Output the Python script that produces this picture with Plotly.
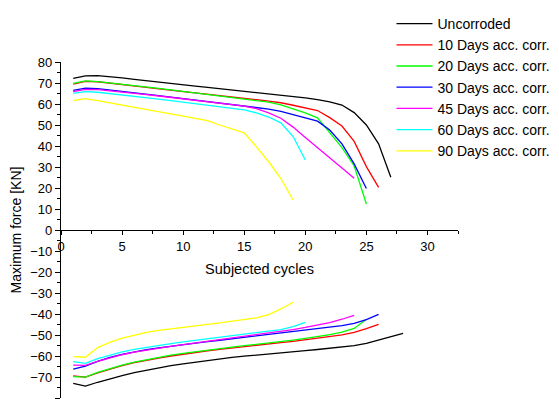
import plotly.graph_objects as go

# ---- data ----
series_names = ["Uncorroded", "10 Days acc. corr.", "20 Days acc. corr.", "30 Days acc. corr.",
                "45 Days acc. corr.", "60 Days acc. corr.", "90 Days acc. corr."]
series_colors = ["#000000", "#FF0000", "#00FF00", "#0000FF", "#FF00FF", "#00FFFF", "#FFFF00"]

unc_pos = [72.2, 73.4, 73.5, 73.1, 72.4, 71.7, 71.0, 70.3, 69.7, 69.1, 68.5, 67.9, 67.3, 66.7, 66.1,
           65.5, 64.9, 64.3, 63.6, 62.9, 62.1, 61.0, 59.5, 55.9, 50.0, 41.0, 25.1]
unc_neg = [-73.0, -74.3, -72.5, -70.8, -69.3, -67.9, -66.7, -65.6, -64.6, -63.7, -62.9, -62.1, -61.4,
           -60.7, -60.1, -59.5, -58.9, -58.4, -57.9, -57.4, -56.9, -56.4, -55.9, -55.1, -54.0, -52.4,
           -50.8, -49.2]

d10_pos = [69.5, 70.8, 70.6, 70.0, 69.3, 68.6, 67.9, 67.2, 66.6, 65.9, 65.2, 64.5, 63.9, 63.3, 62.7,
           62.1, 61.4, 60.6, 59.4, 58.3, 56.9, 53.5, 49.5, 42.2, 30.2, 20.3]
d10_neg = [-69.5, -70.1, -68.0, -66.2, -64.6, -63.2, -62.0, -61.0, -60.0, -59.1, -58.3, -57.5, -56.8,
           -56.1, -55.4, -54.8, -54.2, -53.6, -53.0, -52.3, -51.6, -50.8, -49.9, -48.7, -47.0, -44.9]

d20_pos = [69.8, 71.0, 70.7, 70.1, 69.5, 68.8, 68.1, 67.4, 66.7, 66.0, 65.3, 64.7, 64.0, 63.3, 62.6,
           61.8, 60.9, 59.6, 57.6, 55.8, 53.4, 46.5, 39.2, 30.5, 12.4]
d20_neg = [-69.8, -70.1, -67.8, -65.9, -64.3, -62.9, -61.7, -60.6, -59.6, -58.7, -57.9, -57.2, -56.5,
           -55.8, -55.1, -54.5, -53.8, -53.1, -52.4, -51.6, -50.8, -49.8, -48.6, -46.9, -42.5]

d30_pos = [66.5, 67.6, 67.3, 66.7, 66.1, 65.4, 64.7, 64.0, 63.3, 62.6, 62.0, 61.4, 60.7, 60.0, 59.3,
           58.5, 57.6, 56.5, 55.0, 53.5, 51.8, 47.6, 41.0, 31.5, 19.8]
d30_neg = [-66.3, -64.8, -62.6, -60.7, -59.2, -58.0, -57.0, -56.1, -55.3, -54.6, -53.9, -53.2, -52.5,
           -51.8, -51.1, -50.4, -49.8, -49.1, -48.4, -47.7, -47.0, -46.3, -45.5, -44.5, -42.7, -40.2]

d45_pos = [65.9, 67.0, 66.8, 66.3, 65.8, 65.2, 64.5, 63.8, 63.1, 62.4, 61.8, 61.2, 60.5, 59.8, 59.0,
           57.8, 55.8, 53.2, 49.0, 44.0, 39.3, 34.4, 29.5, 24.6]
d45_neg = [-64.3, -64.5, -62.5, -60.8, -59.4, -58.2, -57.2, -56.3, -55.4, -54.6, -53.8, -53.1, -52.4,
           -51.6, -50.8, -50.0, -49.2, -48.3, -47.4, -46.4, -45.3, -44.1, -42.5, -40.6]

d60_pos = [65.1, 65.9, 65.6, 65.0, 64.4, 63.7, 63.0, 62.3, 61.6, 60.9, 60.2, 59.6, 58.9, 58.2, 57.2,
           55.8, 53.8, 51.0, 44.5, 33.3]
d60_neg = [-62.7, -63.5, -61.3, -59.5, -58.0, -56.8, -55.8, -54.9, -54.1, -53.3, -52.6, -51.9, -51.2,
           -50.5, -49.8, -49.1, -48.3, -47.4, -46.0, -44.0]

d90_pos = [61.6, 62.6, 61.6, 60.5, 59.5, 58.4, 57.4, 56.3, 55.3, 54.2, 53.2, 52.1, 50.0, 48.3, 46.3,
           39.6, 32.5, 24.5, 14.3]
d90_neg = [-60.3, -60.6, -56.0, -53.5, -51.5, -50.0, -48.8, -47.8, -47.0, -46.2, -45.5, -44.9, -44.2,
           -43.5, -42.7, -41.8, -40.3, -37.6, -34.4]

pos_series = [unc_pos, d10_pos, d20_pos, d30_pos, d45_pos, d60_pos, d90_pos]
neg_series = [unc_neg, d10_neg, d20_neg, d30_neg, d45_neg, d60_neg, d90_neg]

FONT = "Liberation Sans, Arial, sans-serif"

fig = go.Figure()
for name, color, pos, neg in zip(series_names, series_colors, pos_series, neg_series):
    fig.add_trace(go.Scatter(x=list(range(1, len(pos) + 1)), y=pos, mode="lines", name=name,
                             legendgroup=name, line=dict(color=color, width=1.3)))
    fig.add_trace(go.Scatter(x=list(range(1, len(neg) + 1)), y=neg, mode="lines", name=name,
                             legendgroup=name, showlegend=False, line=dict(color=color, width=1.3)))

# the page body keeps its default 8px margin, so the figure is sized to fill the rest of the window
fig.update_layout(
    width=551, height=391,
    margin=dict(l=53, r=101, t=54, b=1, autoexpand=False),
    paper_bgcolor="white", plot_bgcolor="white",
    font=dict(family=FONT, size=13, color="black"),
    showlegend=True,
    legend=dict(xref="container", yref="container", x=0.696, y=1.0,
                xanchor="left", yanchor="top", itemwidth=36,
                bgcolor="rgba(0,0,0,0)", font=dict(family=FONT, size=14, color="black"),
                borderwidth=0, tracegroupgap=0),
    xaxis=dict(range=[0, 32.5], anchor="free", position=0.5, automargin=False,
               showline=True, linecolor="black", linewidth=1.2,
               ticks="outside", ticklen=4, tickwidth=1.2, tickcolor="black",
               tickmode="linear", tick0=0, dtick=5,
               minor=dict(ticks="outside", ticklen=3, tickwidth=1, tickcolor="black", dtick=2.5),
               showgrid=False, zeroline=False,
               tickfont=dict(family=FONT, size=13),
               title=dict(text="Subjected cycles", font=dict(family=FONT, size=14.5), standoff=11)),
    yaxis=dict(range=[-80, 80], automargin=False, showline=True, linecolor="black", linewidth=1.2,
               ticks="outside", ticklen=5, tickwidth=1.2, tickcolor="black",
               tickmode="linear", tick0=0, dtick=10,
               minor=dict(ticks="outside", ticklen=3, tickwidth=1, tickcolor="black", dtick=5),
               showgrid=False, zeroline=False,
               tickfont=dict(family=FONT, size=13),
               title=dict(text="Maximum force [KN]", font=dict(family=FONT, size=14), standoff=6)),
)

fig.write_html("out.html")
